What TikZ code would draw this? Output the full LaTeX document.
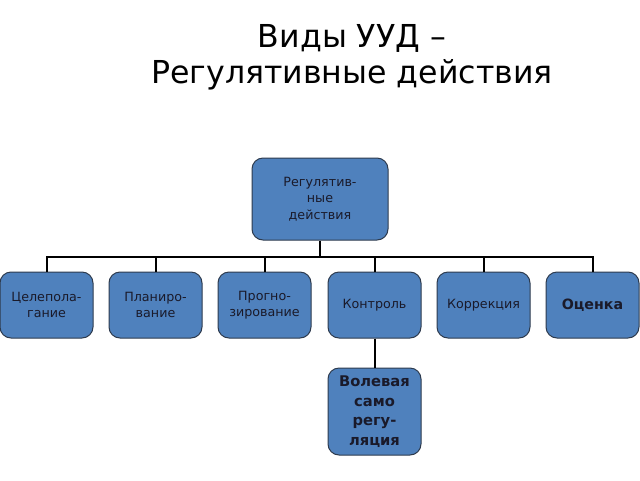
\documentclass[tikz,border=0pt]{standalone}
\usepackage{fontspec}
\setmainfont{DejaVu Sans}
\definecolor{boxfill}{HTML}{4F81BD}
\definecolor{boxline}{HTML}{2E3B4E}
\definecolor{boxtext}{HTML}{1A1A2A}
\begin{document}
\begin{tikzpicture}[x=1pt,y=-1pt,
  box/.style={draw=boxline,line width=1pt,fill=boxfill,rounded corners=11pt,
    text=boxtext,align=center,font=\fontsize{12.7}{16}\selectfont,inner sep=0pt},
  small/.style={box,minimum width=93pt,minimum height=66pt},
  conn/.style={line width=2pt,black}]
\useasboundingbox (0,0) rectangle (640,480);
\fill[white] (0,0) rectangle (640,480);
\node[align=center,font=\fontsize{31.6}{36}\selectfont] (title) at (352,57.5) {Виды УУД –\\Регулятивные действия};
\node[box,minimum width=136pt,minimum height=82pt,font=\fontsize{12.7}{16.5}\selectfont] (top) at (320,199) {Регулятив-\\ные\\действия};
\node[small] (b1) at (46.5,305) {Целепола-\\гание};
\node[small] (b2) at (155.5,305) {Планиро-\\вание};
\node[small] (b3) at (264.5,305) {Прогно-\\зирование};
\node[small] (b4) at (374.5,305) {Контроль};
\node[small] (b5) at (483.5,305) {Коррекция};
\node[small,font=\bfseries\fontsize{14.2}{17}\selectfont] (b6) at (592.5,305) {Оценка};
\node[box,minimum width=93pt,minimum height=87pt,font=\bfseries\fontsize{14.7}{19.5}\selectfont] (vol) at (374.5,411.5) {Волевая\\само\\регу-\\ляция};
\coordinate (bar) at (320,257);
\draw[conn] (top.south) -- (bar);
\foreach \b in {b1,b2,b3,b4,b5,b6}{
  \draw[conn] (bar) -| (\b.north);
}
\draw[conn] (b4.south) -- (vol.north);
\end{tikzpicture}
\end{document}
